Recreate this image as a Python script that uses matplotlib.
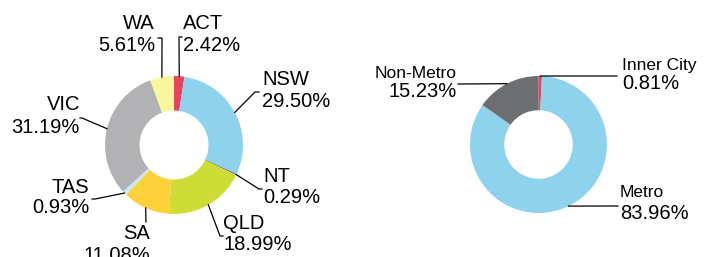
import numpy as np
import matplotlib.pyplot as plt

# ============================================================
#  Data
# ============================================================
state_names = ['ACT', 'NSW', 'NT', 'QLD', 'SA', 'TAS', 'VIC', 'WA']
state_share = [2.42, 29.50, 0.29, 18.99, 11.08, 0.93, 31.19, 5.61]
state_colors = ['#E8445F', '#8ED2EE', '#6D6E70', '#CDDD35',
                '#FDD139', '#C9E8F5', '#B2B2B4', '#F7F79E']

area_names = ['Inner City', 'Metro', 'Non-Metro']
area_share = [0.81, 83.96, 15.23]
area_colors = ['#E8445F', '#8ED2EE', '#6D6E70']

# ============================================================
#  Layout (pixels, origin top-left)
# ============================================================
W, H = 708, 257
# leader elbow points and text anchor (x, name baseline, value baseline, align)
state_elbow = [(179, 37, 182), (255, 92, 259), (259, 189, 262), (220, 236, 223),
               (146, 222, 146), (95, 199, 92), (82, 118, 80), (162, 38, 158)]
state_text = [(183, 29, 51, 'left'), (262, 85, 107, 'left'), (263, 182, 203, 'left'),
              (223, 229, 250, 'left'), (150, 239, 261, 'right'), (89, 193, 213, 'right'),
              (80, 110, 133, 'right'), (155, 29, 51, 'right')]

area_elbow = [(617, 76, 617), (618, 206, 618), (458, 84, 458)]
area_text = [(622, 70, 89, 'left'), (620, 197, 219, 'left'), (457, 78, 97, 'right')]

fig = plt.figure(figsize=(W / 100, H / 100), dpi=100)
plt.rcParams['font.family'] = ['Liberation Sans', 'DejaVu Sans']


def make_axes(cx, cy, r):
    return fig.add_axes([(cx - r) / W, (H - cy - r) / H, 2 * r / W, 2 * r / H])


def to_data(ax, px, py):
    return ax.transData.inverted().transform((px, H - py))


def donut(ax, values, colors, names, elbows, texts, name_size, value_size):
    wedges, _ = ax.pie(values, colors=colors, startangle=90, counterclock=False,
                       radius=1, wedgeprops=dict(width=0.5, linewidth=0))
    ax.set_xlim(-1, 1)
    ax.set_ylim(-1, 1)
    ax.set_aspect('auto')
    ax.axis('off')
    fig.canvas.draw()
    for w, name, val, (ex, ey, tx), (lx, nb, vb, ha) in zip(wedges, names, values, elbows, texts):
        ang = np.deg2rad((w.theta1 + w.theta2) / 2)
        x0, y0 = np.cos(ang), np.sin(ang)
        x1, y1 = to_data(ax, ex, ey)
        x2, y2 = to_data(ax, tx, ey)
        ax.plot([x0, x1, x2], [y0, y1, y2], color='black', lw=0.9, clip_on=False)
        nx, ny = to_data(ax, lx, nb)
        vx, vy = to_data(ax, lx, vb)
        ax.text(nx, ny, name, ha=ha, va='baseline', fontsize=name_size, clip_on=False)
        ax.text(vx, vy, f'{val:.2f}%', ha=ha, va='baseline', fontsize=value_size, clip_on=False)


ax1 = make_axes(174, 145, 69)
donut(ax1, state_share, state_colors, state_names, state_elbow, state_text, 14.5, 14.5)

ax2 = make_axes(538.5, 144.5, 68.5)
donut(ax2, area_share, area_colors, area_names, area_elbow, area_text, 12.5, 14.5)

plt.savefig('out.png', dpi=100)
